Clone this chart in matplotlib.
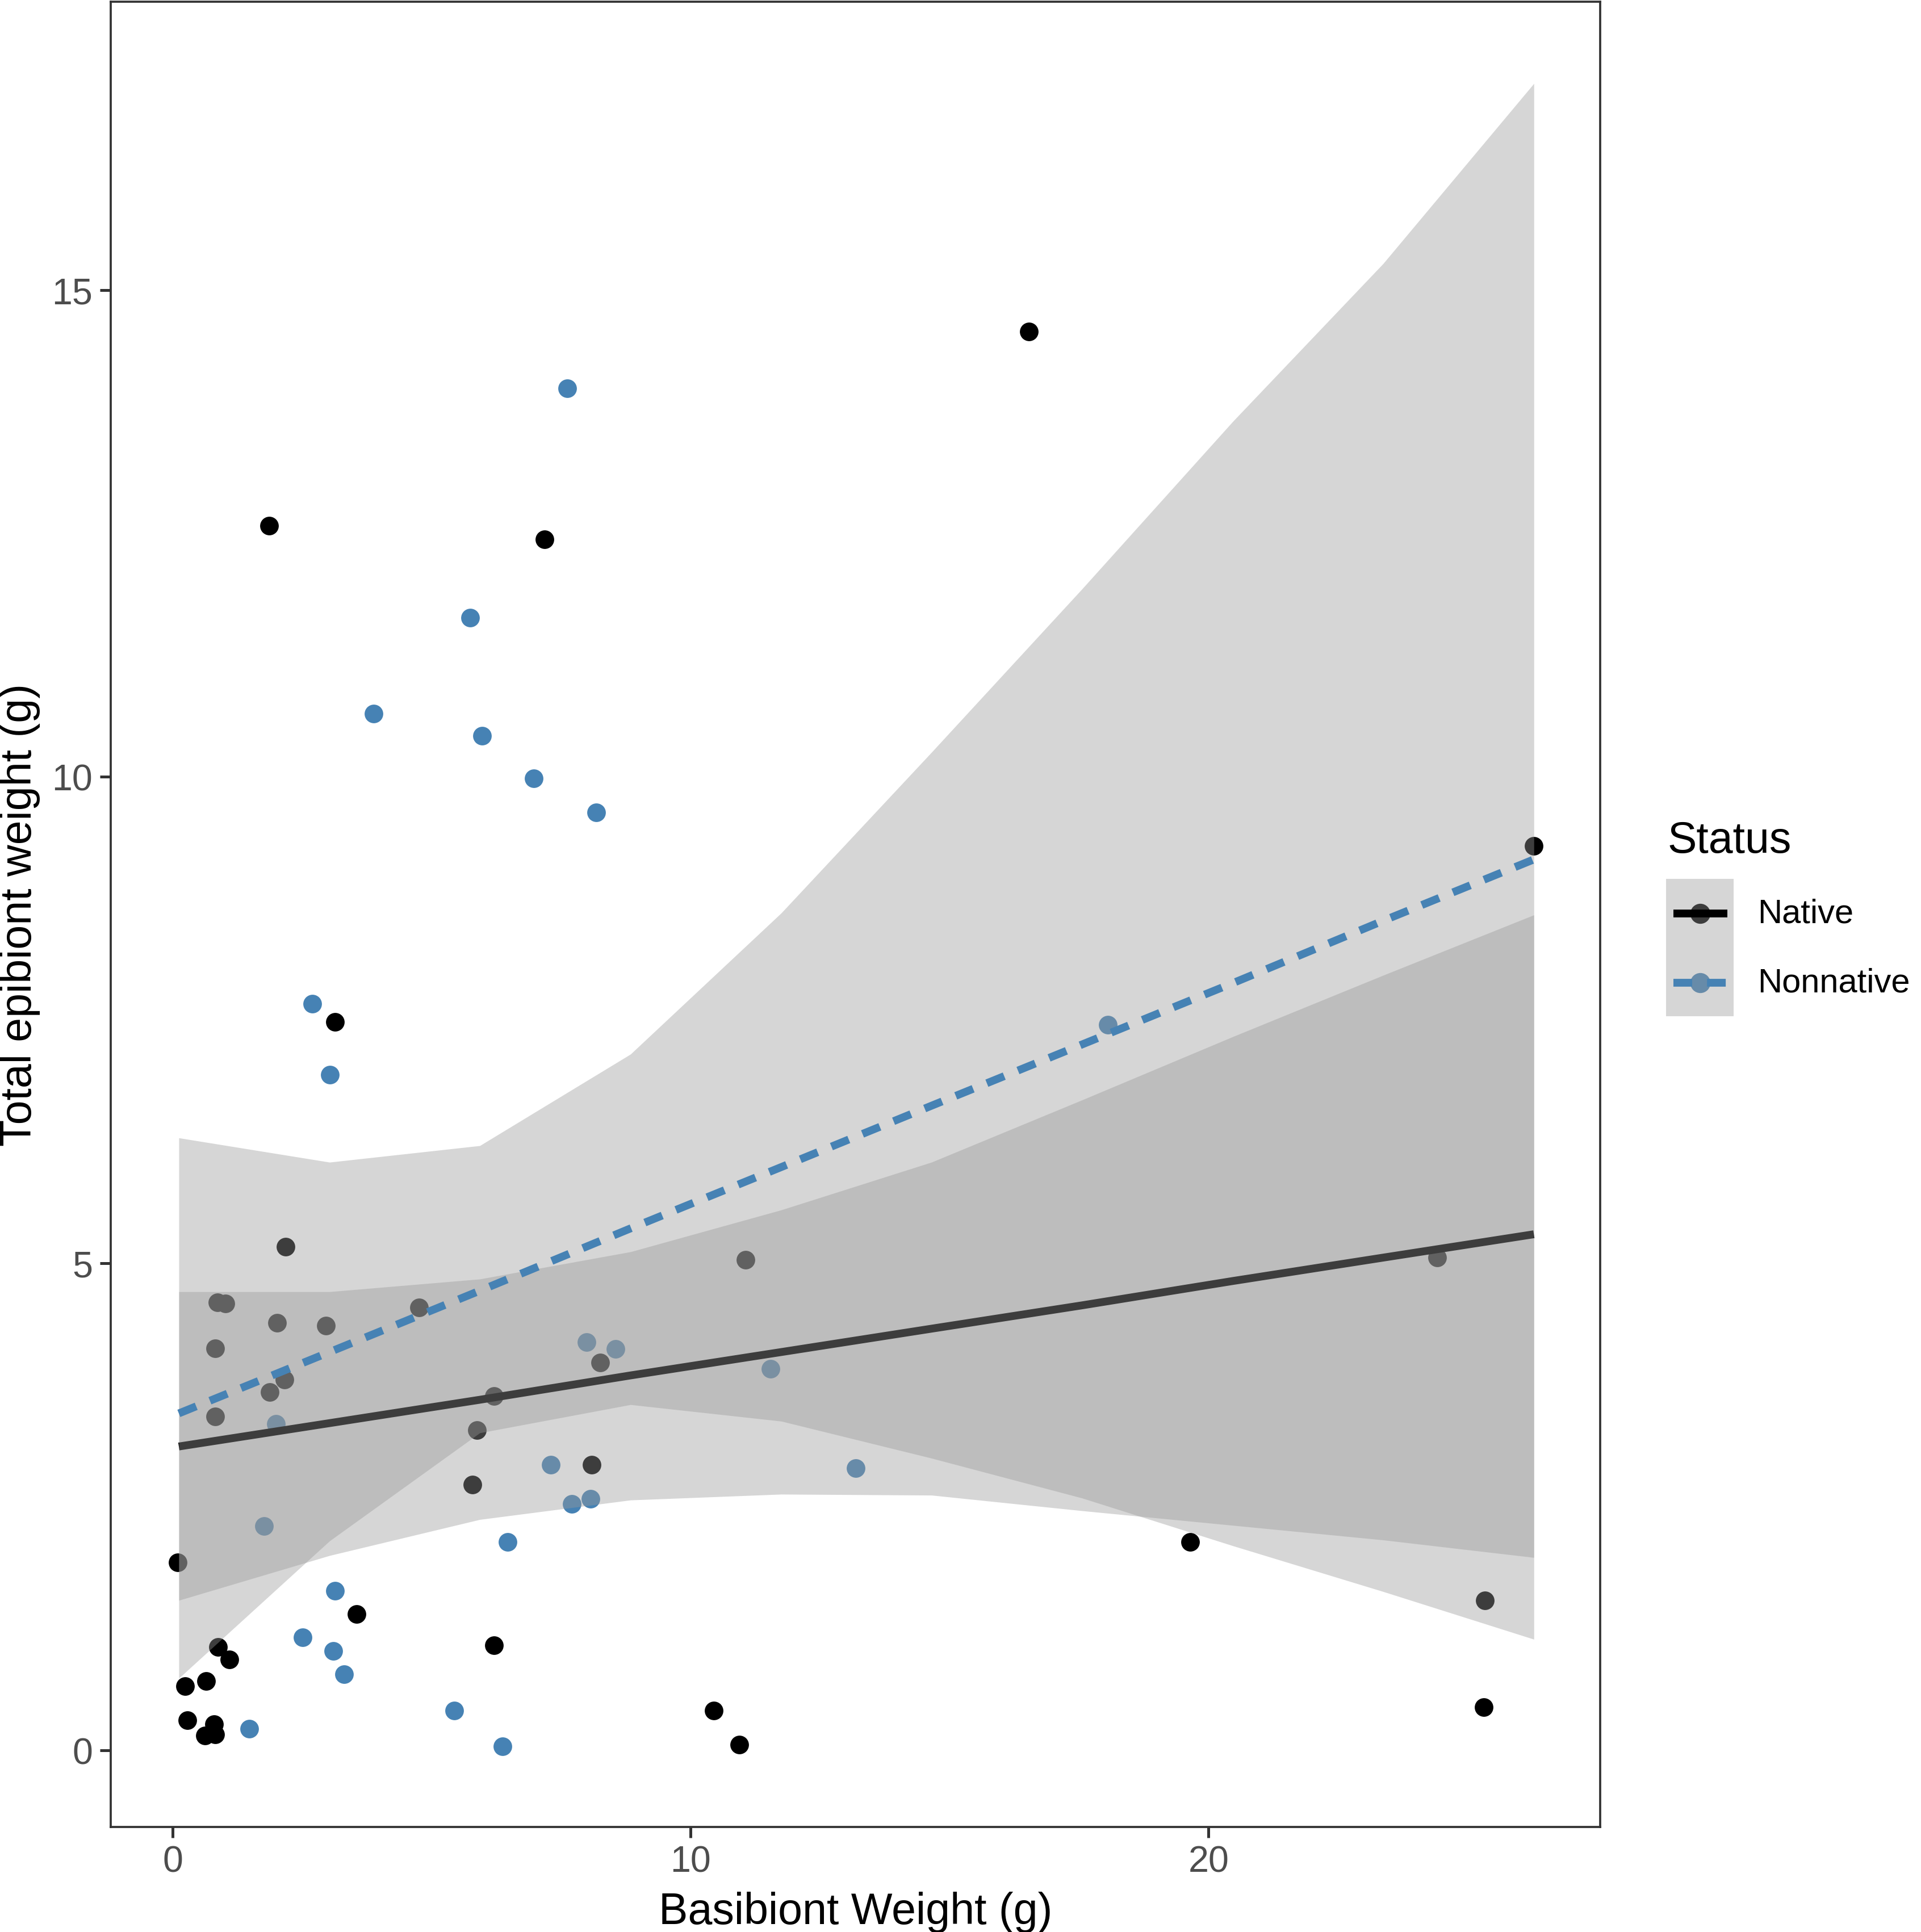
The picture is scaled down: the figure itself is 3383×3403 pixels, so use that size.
import numpy as np
import matplotlib
matplotlib.use('Agg')
import matplotlib.pyplot as plt
from matplotlib.patches import Rectangle

plt.rcParams['font.family'] = ['Liberation Sans', 'DejaVu Sans']

# puntos (peso basibionte, peso epibionte)
native_x = [16.53, 1.86, 7.18, 26.28, 3.14, 2.18, 11.06, 24.41, 0.87, 1.02,
            2.02, 2.96, 4.76, 0.82, 8.25, 2.16, 1.88, 6.20, 0.82, 5.88,
            8.09, 5.79, 0.10, 3.55, 6.21, 0.88, 1.10, 0.24, 0.65, 0.28,
            0.80, 0.63, 0.82, 10.45, 10.94, 19.65, 25.34, 25.31]
native_y = [14.57, 12.58, 12.44, 9.29, 7.48, 5.17, 5.04, 5.06, 4.60, 4.59,
            4.39, 4.36, 4.55, 4.13, 3.98, 3.81, 3.68, 3.64, 3.43, 3.29,
            2.93, 2.73, 1.93, 1.40, 1.08, 1.06, 0.93, 0.66, 0.71, 0.31,
            0.27, 0.15, 0.16, 0.41, 0.06, 2.14, 1.54, 0.44]

nonnative_x = [7.62, 5.74, 3.88, 5.97, 6.97, 8.18, 2.70, 3.04, 18.06, 7.99,
               8.55, 11.54, 1.99, 7.30, 13.19, 7.71, 8.07, 1.76, 6.47, 3.13,
               2.51, 3.10, 3.31, 1.48, 5.44, 6.37]
nonnative_y = [13.99, 11.63, 10.65, 10.42, 9.98, 9.63, 7.67, 6.94, 7.45, 4.19,
               4.12, 3.92, 3.35, 2.93, 2.90, 2.53, 2.58, 2.30, 2.14, 1.64,
               1.16, 1.02, 0.78, 0.22, 0.41, 0.04]

grid_x = [0.12, 3.03, 5.93, 8.84, 11.75, 14.65, 17.56, 20.47, 23.37, 26.28]
native_fit = [3.12, 3.36, 3.60, 3.85, 4.09, 4.33, 4.57, 4.82, 5.06, 5.30]
native_hi = [4.71, 4.71, 4.84, 5.12, 5.55, 6.04, 6.68, 7.33, 7.96, 8.58]
native_lo = [1.54, 2.00, 2.37, 2.57, 2.63, 2.62, 2.46, 2.31, 2.16, 1.98]
nonnative_fit = [3.46, 4.09, 4.72, 5.36, 5.99, 6.62, 7.25, 7.88, 8.52, 9.15]
nonnative_hi = [6.29, 6.04, 6.21, 7.15, 8.60, 10.25, 11.93, 13.65, 15.27, 17.12]
nonnative_lo = [0.74, 2.15, 3.26, 3.55, 3.38, 3.00, 2.59, 2.10, 1.63, 1.14]

status_labels = ['Native', 'Nonnative']
col_native = 'black'
col_nonnative = '#4682B4'
band_col = '#999999'
W, H = 3383, 3404

fig = plt.figure(figsize=(W / 300, H / 300), dpi=300)
ax = fig.add_axes([195 / W, 1 - 3219 / H, (2818 - 195) / W, (3219 - 4) / H])

ax.scatter(native_x, native_y, s=62, color=col_native, linewidths=0, zorder=1)
ax.scatter(nonnative_x, nonnative_y, s=62, color=col_nonnative, linewidths=0, zorder=1)

ax.fill_between(grid_x, native_lo, native_hi, color=band_col, alpha=0.4, lw=0, zorder=2)
ax.plot(grid_x, native_fit, color=col_native, lw=3.3, solid_capstyle='butt', zorder=3)
ax.fill_between(grid_x, nonnative_lo, nonnative_hi, color=band_col, alpha=0.4, lw=0, zorder=4)
ax.plot(grid_x, nonnative_fit, color=col_nonnative, lw=3.3, dashes=(2.4, 1.9), zorder=5)

ax.set_xlim(-1.195, 27.56)
ax.set_ylim(-0.788, 17.96)
ax.set_xticks([0, 10, 20])
ax.set_yticks([0, 5, 10, 15])
ax.tick_params(length=4.6, width=1.2, color='#333333', labelcolor='#4D4D4D',
               labelsize=15.5, pad=3.0)
for sp in ax.spines.values():
    sp.set_color('#333333')
    sp.set_linewidth(0.9)

ax.set_xlabel('Basibiont Weight (g)', fontsize=18.5, va='center')
ax.xaxis.set_label_coords(0.5, -0.0465)
ax.set_ylabel('Total epibiont weight (g)', fontsize=18.5, va='center')
ax.yaxis.set_label_coords(-0.061, 0.5)

# leyenda hecha a mano (fondo gris de la banda en cada clave)
fig.text(2936 / W, 1 - 1502 / H, 'Status', fontsize=18.5, ha='left', va='baseline')
lax = fig.add_axes([2934 / W, 1 - 1791 / H, (3053 - 2934) / W, (1791 - 1549) / H])
lax.set_xlim(0, 1)
lax.set_ylim(0, 1)
lax.axis('off')
key_y = [0.748, 0.244]
key_col = [col_native, col_nonnative]
for yk, ck in zip(key_y, key_col):
    lax.scatter([0.5], [yk], s=72, color=ck, linewidths=0, zorder=1)
lax.add_patch(Rectangle((0, 0), 1, 1, color=band_col, alpha=0.4, lw=0, zorder=2))
lax.plot([0.11, 0.91], [key_y[0], key_y[0]], color=col_native, lw=3.3,
         solid_capstyle='butt', zorder=3)
lax.plot([0.11, 0.91], [key_y[1], key_y[1]], color=col_nonnative, lw=3.3,
         dashes=(2.4, 1.9), zorder=3)
for yk, lab in zip(key_y, status_labels):
    fig.text(3095 / W, 1 - (1791 - yk * 242) / H, lab, fontsize=14.3,
             ha='left', va='center')

fig.savefig('out.png', dpi=300)
